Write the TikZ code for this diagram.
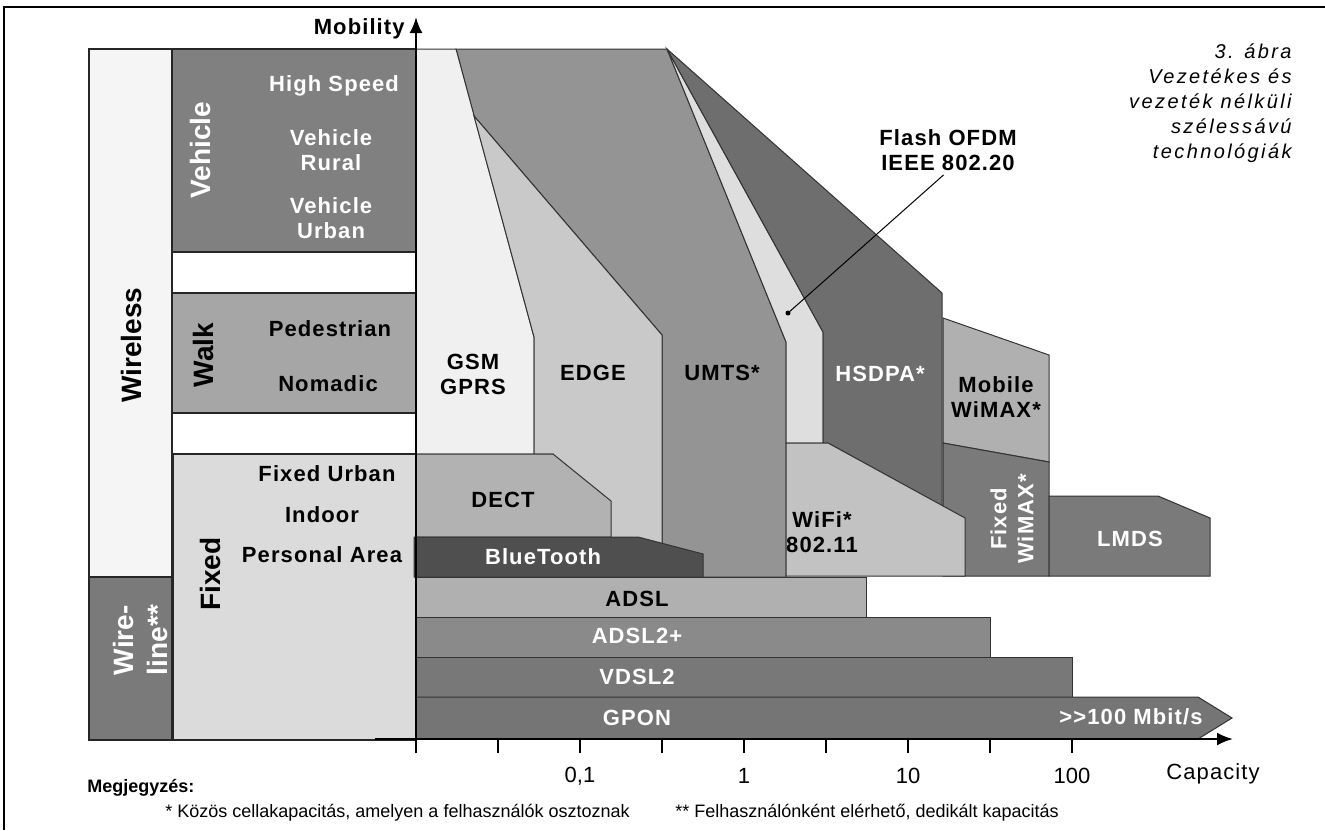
\documentclass[tikz,border=0pt]{standalone}
\usepackage{fontspec}
\setmainfont{Liberation Sans}
\newfontfamily\capfont[LetterSpace=12]{Liberation Sans}
\newfontfamily\spfont[LetterSpace=5]{Liberation Sans}
\usetikzlibrary{arrows.meta}

\begin{document}
\begin{tikzpicture}[x=0.5pt,y=-0.5pt]
\tikzstyle{every node}=[inner sep=0pt,align=center,font=\spfont\bfseries\fontsize{11}{12.5}\selectfont]
\tikzstyle{area}=[draw=black!80,line width=0.5pt]
\tikzstyle{box}=[draw=black!85,line width=0.8pt]
\tikzstyle{wlab}=[text=white]
\tikzstyle{vlab}=[rotate=90,font=\bfseries\fontsize{14}{17}\selectfont]
\tikzstyle{axis}=[line width=1.2pt,-{Latex[length=8pt,width=6.5pt]}]
\useasboundingbox (0,0) rectangle (1325,830);
\draw[line width=0.8pt] (1325,7) -- (4,7) -- (4,830);

\draw[box,fill=black!4] (89,49) rectangle (172,577);
\draw[box,fill=black!52] (89,577) rectangle (172,740);
\draw[box,fill=black!50] (172,49) rectangle (416,252);
\draw[box,fill=black!35] (172,293) rectangle (416,413);
\draw[box,fill=black!14] (173,454) rectangle (416,740);

\draw[area,fill=black!42] (456,49) -- (667,49) -- (786,342) -- (786,577) -- (662,577) -- (662,335) -- (474,116) -- cycle;
\draw[area,fill=black!13] (667,49) -- (823,332) -- (823,443) -- (786,443) -- (786,342) -- cycle;
\draw[area,fill=black!57] (667,49) -- (942,293) -- (942,506) -- (828,443) -- (823,443) -- (823,332) -- cycle;
\draw[area,fill=black!6] (416,49) -- (456,49) -- (534,337) -- (534,454) -- (416,454) -- cycle;
\draw[area,fill=black!21] (474,116) -- (662,335) -- (662,577) -- (553,577) -- (553,454) -- (534,454) -- (534,337) -- cycle;
\draw[area,fill=black!30] (416,454) -- (553,454) -- (611,501) -- (611,537) -- (416,537) -- cycle;
\draw[area,fill=black!69] (414,537) -- (638,537) -- (703,554) -- (703,577) -- (414,577) -- cycle;
\draw[area,fill=black!31] (943,318) -- (1049,355) -- (1049,462) -- (943,443) -- cycle;
\draw[area,fill=black!52] (943,443) -- (1049,462) -- (1049,576) -- (943,576) -- cycle;
\draw[area,fill=black!24] (786,443) -- (828,443) -- (965,518) -- (965,576) -- (786,576) -- cycle;
\draw[area,fill=black!52] (1049,496) -- (1158,496) -- (1210,518) -- (1210,576) -- (1049,576) -- cycle;
\draw[area,fill=black!31] (416,577) rectangle (866,617);
\draw[area,fill=black!46] (416,617) rectangle (990,657);
\draw[area,fill=black!53] (416,657) rectangle (1072,697);
\draw[area,fill=black!54] (416,697) -- (1198,697) -- (1232,718) -- (1198,739) -- (416,739) -- cycle;

\draw[axis] (416,753) -- (416,17);
\draw[axis] (375,739) -- (1233,739);
\foreach \i in {0,...,8}
  \draw[line width=1.2pt] (416+82*\i,739) -- (416+82*\i,753);

\node (mob) [anchor=east] at (405,29) {Mobility};
\node (cap) [font=\spfont\fontsize{11}{12.5}\selectfont] at (1213,774) {Capacity};
\node (t1) [font=\fontsize{11}{12.5}\selectfont] at (580,776) {0,1};
\node (t2) [font=\fontsize{11}{12.5}\selectfont] at (744,776) {1};
\node (t3) [font=\fontsize{11}{12.5}\selectfont] at (908,776) {10};
\node (t4) [font=\fontsize{11}{12.5}\selectfont] at (1072,776) {100};

\node[vlab] (wless) at (131,345) {Wireless};
\node[vlab,wlab,align=left] (wline) at (140,640) {Wire-\\line**};
\node[vlab,wlab] (veh) at (200,150) {Vehicle};
\node[vlab] (walk) at (203,355) {Walk};
\node[vlab] (fix) at (210,574) {Fixed};

\node[wlab] (hs) at (334,86) {High Speed};
\node[wlab] (vr) at (331,150) {Vehicle\\Rural};
\node[wlab] (vu) at (331,218) {Vehicle\\Urban};
\node (ped) at (330,329) {Pedestrian};
\node (nom) at (328,384) {Nomadic};
\node (fu) at (327,474) {Fixed Urban};
\node (ind) at (322,515) {Indoor};
\node (pa) at (322,555) {Personal Area};

\node (gsm) at (473,374) {GSM\\GPRS};
\node (edge) at (593,373) {EDGE};
\node (umts) at (722,373) {UMTS*};
\node[wlab] (hsdpa) at (880,374) {HSDPA*};
\node (mwimax) at (996,397) {Mobile\\WiMAX*};
\node[wlab,rotate=90,align=center,font=\spfont\bfseries\fontsize{11}{13.5}\selectfont] (fwimax) at (1012,519) {Fixed\\WiMAX*};
\node (wifi) at (822,532) {WiFi*\\802.11};
\node[wlab] (lmds) at (1130,539) {LMDS};
\node (dect) at (503,500) {DECT};
\node[wlab] (bt) at (543,557) {BlueTooth};
\node (adsl) at (637,599) {ADSL};
\node[wlab] (adsl2) at (637,636) {ADSL2+};
\node[wlab] (vdsl) at (637,677) {VDSL2};
\node[wlab] (gpon) at (637,718) {GPON};
\node[wlab] (gbit) at (1131,717) {>>100 Mbit/s};

\node (flash) at (948,150) {Flash OFDM\\IEEE 802.20};
\coordinate (fdot) at (788,313);
\fill (fdot) circle (2.5);
\draw[line width=0.5pt,shorten >=3pt] (fdot) -- (flash.south);

\node (capt) [anchor=east,align=right,font=\capfont\itshape\fontsize{10}{12.5}\selectfont] at (1292,103) {3. ábra\\Vezetékes és\\vezeték nélküli\\szélessávú\\technológiák};

\node (megj) [anchor=west,font=\bfseries\fontsize{9}{11}\selectfont] at (87,788) {Megjegyzés:};
\node (n1) [anchor=west,font=\fontsize{9}{11}\selectfont] at (165,813) {* Közös cellakapacitás, amelyen a felhasználók osztoznak};
\node (n2) [anchor=west,font=\fontsize{9}{11}\selectfont] at (675,813) {** Felhasználónként elérhető, dedikált kapacitás};
\end{tikzpicture}
\end{document}
